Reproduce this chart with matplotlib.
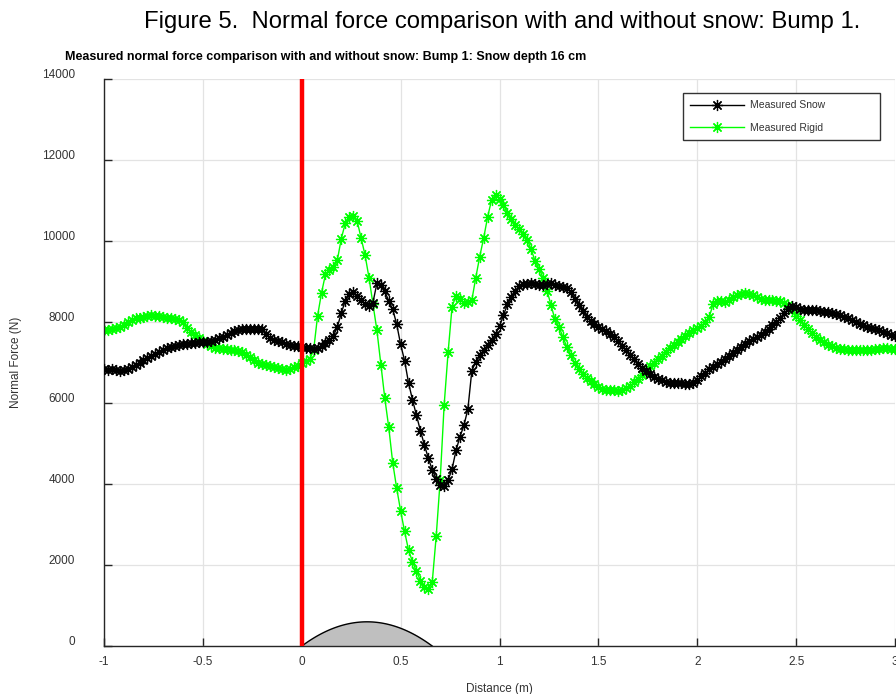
import matplotlib.pyplot as plt
import numpy as np
from matplotlib.transforms import ScaledTranslation

plt.rcParams['font.family'] = ['Liberation Sans', 'DejaVu Sans']
plt.rcParams['axes.unicode_minus'] = False

# Distance along the track (m), sampled every 2 cm
distance = np.linspace(-1.0, 3.0, 201)

# Measured normal force over the bump with 16 cm of snow (N)
force_snow = [
    6840, 6820, 6830, 6810, 6800, 6820, 6840, 6880, 6930, 6990,
    7060, 7110, 7170, 7220, 7260, 7310, 7350, 7380, 7410, 7440,
    7460, 7470, 7480, 7490, 7500, 7510, 7520, 7540, 7560, 7600,
    7640, 7690, 7730, 7770, 7800, 7830, 7840, 7830, 7820, 7840,
    7820, 7700, 7610, 7570, 7530, 7500, 7460, 7430, 7410, 7400,
    7390, 7370, 7350, 7340, 7350, 7410, 7480, 7560, 7660, 7880,
    8220, 8530, 8700, 8740, 8650, 8540, 8450, 8410, 8480, 8960,
    8910, 8760, 8520, 8320, 7950, 7450, 7050, 6500, 6080, 5700,
    5320, 4970, 4640, 4350, 4130, 3990, 3960, 4100, 4370, 4830,
    5170, 5450, 5850, 6800, 7020, 7190, 7310, 7440, 7560, 7700,
    7900, 8170, 8440, 8620, 8760, 8880, 8930, 8950, 8960, 8940,
    8920, 8920, 8940, 8960, 8920, 8880, 8860, 8840, 8750, 8580,
    8430, 8270, 8130, 8030, 7960, 7890, 7830, 7770, 7710, 7640,
    7530, 7410, 7300, 7200, 7080, 6970, 6870, 6790, 6710, 6640,
    6600, 6560, 6530, 6500, 6490, 6490, 6490, 6480, 6470, 6500,
    6560, 6660, 6740, 6830, 6900, 6960, 7020, 7090, 7160, 7240,
    7320, 7390, 7460, 7530, 7590, 7640, 7690, 7760, 7840, 7920,
    8000, 8090, 8220, 8330, 8390, 8370, 8330, 8310, 8310, 8310,
    8300, 8280, 8250, 8240, 8220, 8200, 8170, 8130, 8090, 8050,
    8000, 7960, 7920, 7880, 7860, 7830, 7800, 7760, 7720, 7690,
    7660,
]

# Measured normal force over the bare (rigid) bump (N)
force_rigid = [
    7800, 7800, 7820, 7850, 7880, 7940, 8010, 8060, 8090, 8110,
    8130, 8150, 8170, 8160, 8150, 8130, 8100, 8090, 8080, 8060,
    8000, 7850, 7760, 7680, 7610, 7540, 7470, 7410, 7370, 7350,
    7340, 7330, 7320, 7310, 7290, 7260, 7200, 7130, 7060, 7000,
    6970, 6940, 6920, 6900, 6860, 6830, 6810, 6850, 6880, 6920,
    6980, 7030, 7080, 7300, 8150, 8720, 9180, 9280, 9350, 9530,
    10060, 10440, 10600, 10620, 10500, 10080, 9660, 9100, 8450, 7800,
    6950, 6120, 5400, 4530, 3900, 3340, 2830, 2370, 2080, 1850,
    1620, 1450, 1400, 1590, 2720, 4100, 5950, 7250, 8380, 8650,
    8560, 8460, 8500, 8540, 9100, 9620, 10080, 10600, 11020, 11150,
    11050, 10880, 10700, 10540, 10400, 10300, 10180, 10030, 9800, 9500,
    9320, 9100, 8780, 8430, 8070, 7890, 7640, 7390, 7200, 6990,
    6830, 6710, 6620, 6540, 6460, 6390, 6350, 6330, 6320, 6320,
    6310, 6330, 6380, 6430, 6510, 6600, 6700, 6820, 6920, 7000,
    7080, 7160, 7260, 7360, 7440, 7520, 7580, 7650, 7720, 7800,
    7860, 7910, 8000, 8120, 8450, 8530, 8510, 8500, 8550, 8620,
    8660, 8700, 8720, 8700, 8680, 8620, 8560, 8540, 8540, 8540,
    8520, 8510, 8480, 8420, 8300, 8160, 8040, 7930, 7820, 7730,
    7640, 7570, 7500, 7440, 7400, 7370, 7340, 7330, 7320, 7310,
    7310, 7300, 7300, 7310, 7320, 7330, 7340, 7350, 7350, 7340,
    7330,
]

# Bump profile: length (m) and drawn height (N scale)
bump_length = 0.66
bump_height = 600

xticks = [-1, -0.5, 0, 0.5, 1, 1.5, 2, 2.5, 3]
xtick_labels = ['-1', '-0.5', '0', '0.5', '1', '1.5', '2', '2.5', '3']
yticks = [0, 2000, 4000, 6000, 8000, 10000, 12000, 14000]
ytick_labels = ['0', '2000', '4000', '6000', '8000', '10000', '12000', '14000']

fig = plt.figure(figsize=(8.96, 6.94), dpi=100)
ax = fig.add_axes([0.116, 0.069, 0.883, 0.817])

star = (8, 2, 0)
ax.plot(distance, force_snow, color='k', lw=1, marker=star, ms=8, mew=0.9,
        label='Measured Snow', zorder=3)
ax.plot(distance, force_rigid, color='#00ff00', lw=1, marker=star, ms=8, mew=0.9,
        label='Measured Rigid', zorder=2)

# bump outline
xb = np.linspace(0, bump_length, 100)
yb = 4 * bump_height * xb * (bump_length - xb) / bump_length**2
ax.fill_between(xb, 0, yb, color='#bfbfbf', zorder=2)
ax.plot(xb, yb, color='k', lw=1, zorder=2)

ax.plot([0, 0], [0, 14000], color='red', lw=3.2, zorder=4)

ax.set_xlim(-1, 3)
ax.set_ylim(0, 14000)
ax.set_xticks(xticks)
ax.set_xticklabels(xtick_labels)
ax.set_yticks(yticks)
ax.set_yticklabels(ytick_labels)
ax.grid(color='#e3e3e3', lw=0.9)
ax.set_axisbelow(True)
for s in ['top', 'right']:
    ax.spines[s].set_visible(False)
for s in ['left', 'bottom']:
    ax.spines[s].set_color('#262626')
    ax.spines[s].set_linewidth(1.0)
ax.tick_params(direction='in', length=6, width=1, color='#262626',
               labelsize=8.5, labelcolor='#333333')
ax.tick_params(axis='x', pad=7)
ax.tick_params(axis='y', pad=21)
shift = ScaledTranslation(0, 0.06, fig.dpi_scale_trans)
for lab in ax.get_yticklabels():
    lab.set_transform(lab.get_transform() + shift)

ax.set_xlabel('Distance (m)', fontsize=8.5, color='#333333', labelpad=11)
ax.set_ylabel('Normal Force (N)', fontsize=8.5, color='#333333', labelpad=14)

leg = ax.legend(loc='upper left', mode='expand',
                bbox_to_anchor=(683 / 896, 1 - 146 / 694, 197 / 896, 53 / 694),
                bbox_transform=fig.transFigure, fontsize=7.5, handlelength=5.2,
                handletextpad=0.5, fancybox=False, framealpha=1,
                edgecolor='#333333', borderpad=0.7, labelspacing=1.2,
                borderaxespad=0)
leg.get_frame().set_linewidth(1.0)
for t in leg.get_texts():
    t.set_color('#333333')

fig.text(65 / 896, 1 - 57 / 694,
         'Measured normal force comparison with and without snow: Bump 1: Snow depth 16 cm',
         fontsize=9.0, fontweight='bold', va='center', ha='left')
fig.text(502 / 896, 1 - 22 / 694,
         'Figure 5.  Normal force comparison with and without snow: Bump 1.',
         fontsize=17.2, va='center', ha='center')

plt.savefig('out.png', dpi=100)
